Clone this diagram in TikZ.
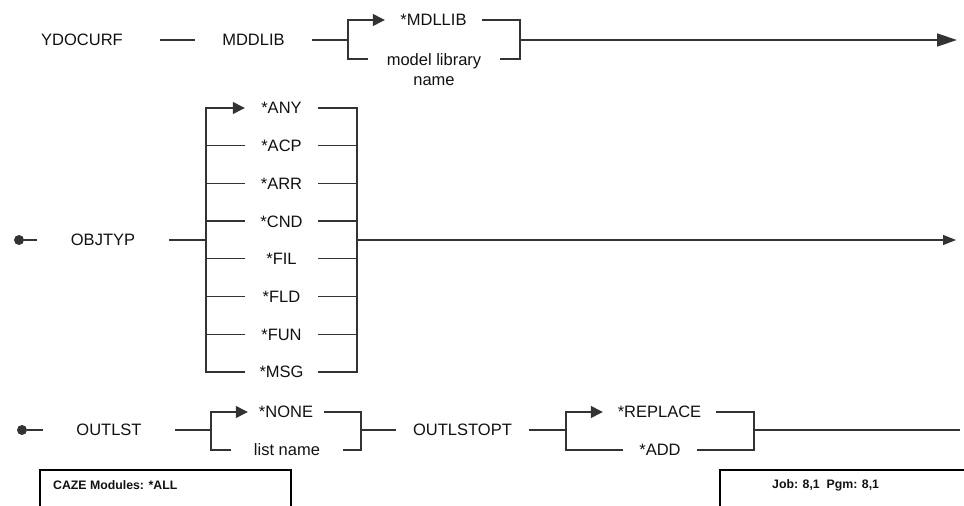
\documentclass[tikz,border=0pt]{standalone}
\usepackage{fontspec}
\setmainfont{Liberation Sans}
\usetikzlibrary{arrows.meta,calc}
\definecolor{RailInk}{HTML}{333333}
\definecolor{RailText}{HTML}{111111}
\newcommand{\railfont}{\fontsize{16.5}{20}\selectfont}
\newcommand{\tagfont}{\fontsize{12.3}{14}\selectfont\bfseries}
\tikzset{
  railnode/.style={font=\railfont,text=RailText,inner sep=0pt,text height=11.8pt,text depth=0pt},
  startdot/.style={circle,fill=RailInk,inner sep=0pt,minimum size=10pt},
  rail/.style={draw=RailInk,line width=1.3pt},
  railarrow/.style={rail,-{Triangle[length=12pt,width=12pt]}},
  endarrow/.style={rail,-{Triangle[length=20pt,width=13pt]}},
  endarrowsmall/.style={rail,-{Triangle[length=13pt,width=10pt]}},
  tagframe/.style={draw=black,line width=2pt},
  tagtext/.style={font=\tagfont,text=RailText,inner sep=0pt,anchor=west}
}

\begin{document}
\begin{tikzpicture}[x=1pt,y=-1pt]
\useasboundingbox (0,0) rectangle (964,506);
% row 1: YDOCURF MDDLIB
\node[railnode,minimum width=156pt] (ydocurf) at (82,40) {YDOCURF};
\node[railnode,minimum width=117pt] (mddlib) at (253.5,40) {MDDLIB};
\coordinate (j1a) at (348,40);
\coordinate (j1b) at (520,40);
\coordinate (end1) at (957,40);
\node[railnode,minimum width=97pt] (mdllib) at (433.5,20) {*MDLLIB};
\node[railnode,minimum width=132pt,align=center,anchor=north] (mlib) at (434,73) {model library\\name};
\coordinate (mrow) at ($(mlib.north)+(0,-14.1)$);
\draw[rail] (ydocurf) -- (mddlib);
\draw[rail] (mddlib) -- (j1a);
\draw[railarrow] (mlib.west |- mrow) -| (j1a |- mdllib.west) -- (mdllib.west);
\draw[rail] (mdllib.east) -| (j1b |- mrow) -- (mlib.east |- mrow);
\draw[endarrow] (j1b) -- (end1);

% row 2: OBJTYP
\node[startdot] (dot2) at (19,240) {};
\node[railnode,minimum width=132pt] (objtyp) at (103,240) {OBJTYP};
\coordinate (j2a) at (206,240);
\coordinate (j2b) at (357,240);
\coordinate (end2) at (956,240);
\foreach \lab [count=\i from 0] in {ANY,ACP,ARR,CND,FIL,FLD,FUN,MSG}
  \node[railnode,minimum width=73pt] (opt\i) at (281.5,{108+37.7*\i}) {*\lab};
\draw[rail] (dot2) -- (objtyp);
\draw[rail] (objtyp) -- (j2a);
\draw[railarrow] (opt7.west) -| (j2a |- opt0.west) -- (opt0.west);
\draw[rail] (opt0.east) -| (j2b |- opt7.east) -- (opt7.east);
\foreach \i in {1,...,6}{
  \draw[rail] (j2a |- opt\i.west) -- (opt\i.west);
  \draw[rail] (opt\i.east) -- (j2b |- opt\i.east);
}
\draw[endarrowsmall] (j2b) -- (end2);

% row 3: OUTLST OUTLSTOPT
\node[startdot] (dot3) at (22,430) {};
\node[railnode,minimum width=132pt] (outlst) at (109,430) {OUTLST};
\coordinate (j3a) at (211,430);
\coordinate (j3b) at (361,430);
\node[railnode,minimum width=76pt] (none) at (286,412) {*NONE};
\node[railnode,minimum width=112pt] (listname) at (287,450) {list name};
\node[railnode,minimum width=133pt] (outlstopt) at (462.5,430) {OUTLSTOPT};
\coordinate (j3c) at (566,430);
\coordinate (j3d) at (754,430);
\coordinate (end3) at (960,430);
\node[railnode,minimum width=113pt] (replace) at (659.5,412) {*REPLACE};
\node[railnode,minimum width=74pt] (add) at (660,450) {*ADD};
\draw[rail] (dot3) -- (outlst);
\draw[rail] (outlst) -- (j3a);
\draw[railarrow] (listname.west) -| (j3a |- none.west) -- (none.west);
\draw[rail] (none.east) -| (j3b |- listname.east) -- (listname.east);
\draw[rail] (j3b) -- (outlstopt);
\draw[rail] (outlstopt) -- (j3c);
\draw[railarrow] (add.west) -| (j3c |- replace.west) -- (replace.west);
\draw[rail] (replace.east) -| (j3d |- add.east) -- (add.east);
\draw[rail] (j3d) -- (end3);

% footer tags
\draw[tagframe] (40,510) |- (291,470) -- (291,510);
\node[tagtext] (cazetag) at (53,485) {CAZE Modules: *ALL};
\draw[tagframe] (720,510) |- (970,470);
\node[tagtext] (jobtag) at (772,485) {Job: 8,1\ \ Pgm: 8,1};
\end{tikzpicture}
\end{document}
